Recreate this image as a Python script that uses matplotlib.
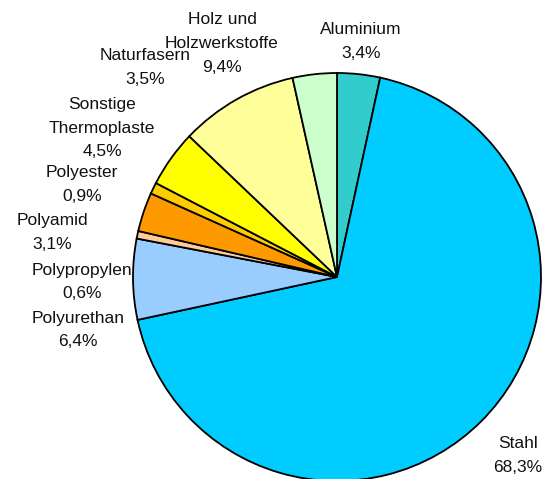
import matplotlib
matplotlib.use("Agg")
import matplotlib.pyplot as plt

categories = ["Aluminium", "Stahl", "Polyurethan", "Polypropylen", "Polyamid",
              "Polyester", "Sonstige\nThermoplaste", "Holz und\nHolzwerkstoffe", "Naturfasern"]
values = [3.4, 68.3, 6.4, 0.6, 3.1, 0.9, 4.5, 9.4, 3.5]
value_labels = ["3,4%", "68,3%", "6,4%", "0,6%", "3,1%", "0,9%", "4,5%", "9,4%", "3,5%"]
colors = ["#33CCCC", "#00CCFF", "#99CCFF", "#FFCC99", "#FF9900",
          "#FFCC00", "#FFFF00", "#FFFF99", "#CCFFCC"]
# label centers in pixel coords (x, y from top) of the first line
label_pos = [(361, 30), (518, 443), (78, 318), (82, 270), (52, 220),
             (82, 172), (102, 104), (222, 20), (145, 55)]

W, H = 545, 479
fig = plt.figure(figsize=(W / 100, H / 100), dpi=100)
cx, cy, r = 337, 277, 204
ax = fig.add_axes([(cx - r) / W, (H - cy - r) / H, 2 * r / W, 2 * r / H])
ax.pie(values, colors=colors, startangle=90, counterclock=False,
       wedgeprops=dict(edgecolor="black", linewidth=1.3))
ax.set_xlim(-1, 1)
ax.set_ylim(-1, 1)
ax.set_aspect("equal")
ax.axis("off")

line_h = 24
for cat, vl, (px, py) in zip(categories, value_labels, label_pos):
    lines = cat.split("\n") + [vl]
    for i, ln in enumerate(lines):
        fig.text(px / W, 1 - (py + i * line_h) / H, ln, ha="center", va="center",
                 fontsize=12.5, family="Liberation Sans", color="#111111")

fig.savefig("out.png", dpi=100)
